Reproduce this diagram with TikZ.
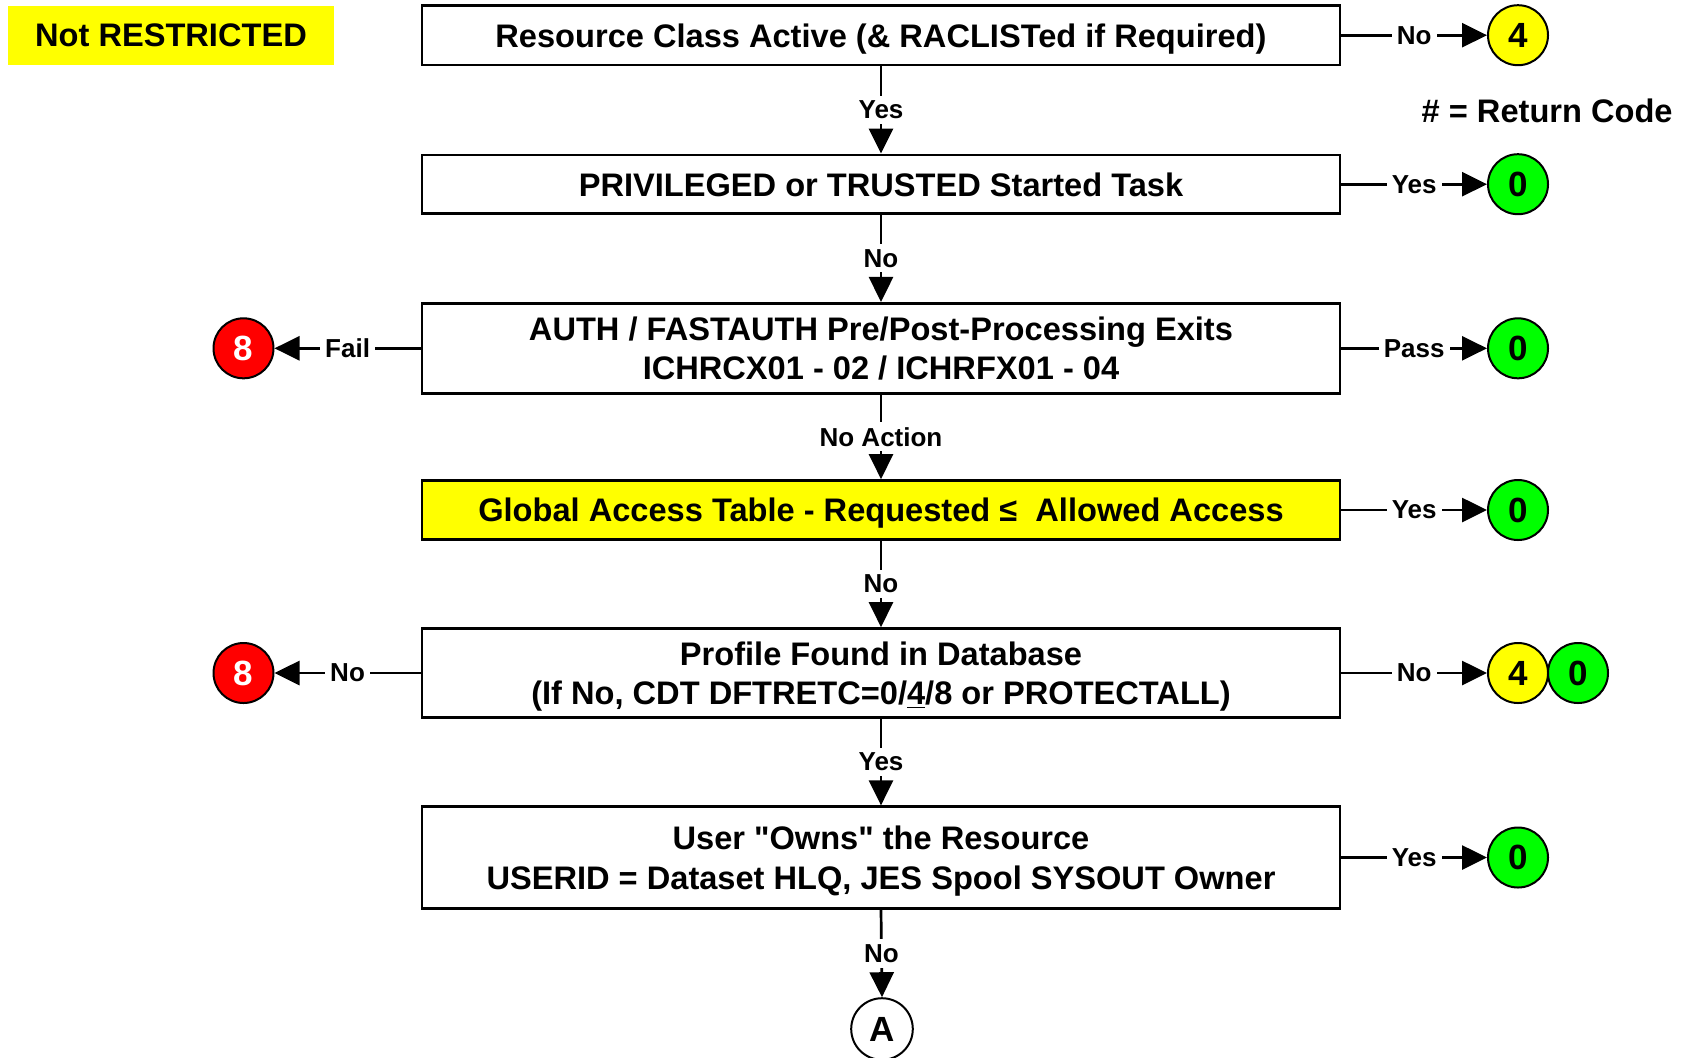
\documentclass[tikz,border=0pt]{standalone}
\usepackage{fontspec}
\setmainfont{Liberation Sans}
\usetikzlibrary{arrows.meta}
\definecolor{hiyellow}{RGB}{255,255,0}
\definecolor{rcgreen}{RGB}{0,255,0}
\definecolor{rcred}{RGB}{255,0,0}
% a line whose descenders do not push the text up in its box
\newcommand{\flatbase}[1]{\raisebox{0pt}[\height][0pt]{#1}}
\begin{document}
\begin{tikzpicture}[x=0.5pt,y=-0.5pt,
  flowbox/.style={draw, line width=1.35pt, minimum width=459pt, inner sep=0pt,
    align=center, font=\bfseries\fontsize{16.3}{19.7}\selectfont},
  rc/.style={circle, draw, line width=1pt, minimum size=30pt, inner sep=0pt,
    font=\bfseries\fontsize{17.5}{17.5}\selectfont},
  conn/.style={line width=1.35pt, -{Triangle[length=12.5pt,width=12pt]}},
  lbl/.style={fill=white, inner sep=2.5pt, font=\bfseries\fontsize{13}{13}\selectfont}
]
\useasboundingbox (0,0) rectangle (1682,1057);

% title tag and legend
\node[fill=hiyellow, minimum width=163pt, minimum height=29.5pt, inner sep=0pt,
  font=\bfseries\fontsize{16.3}{16.3}\selectfont] (tag) at (171,35.5) {Not RESTRICTED};
\node[anchor=east, inner sep=0pt, font=\bfseries\fontsize{16.3}{16.3}\selectfont]
  (legend) at (1673,111) {\# = Return Code};

% decision boxes
\node[flowbox, minimum height=29.8pt] (b1) at (881,35.2)
  {\flatbase{Resource Class Active (\& RACLISTed if Required)}};
\node[flowbox, minimum height=29.3pt] (b2) at (881,184.2)
  {\flatbase{PRIVILEGED or TRUSTED Started Task}};
\node[flowbox, minimum height=45pt] (b3) at (881,348.3)
  {AUTH / FASTAUTH Pre/Post-Processing Exits\\\flatbase{ICHRCX01 - 02 / ICHRFX01 - 04}};
\node[flowbox, fill=hiyellow, minimum height=29.5pt] (b4) at (881,510)
  {\flatbase{Global Access Table - Requested ≤\ \ Allowed Access}};
\node[flowbox, minimum height=44.5pt] (b5) at (881,673)
  {Profile Found in Database\\\flatbase{(If No, CDT DFTRETC=0/\underline{4}/8 or PROTECTALL)}};
\node[flowbox, minimum height=50.8pt] (b6) at (881,857.5)
  {User \textquotedbl Owns\textquotedbl{} the Resource\\\flatbase{USERID = Dataset HLQ, JES Spool SYSOUT Owner}};

% return codes
\node[rc, fill=hiyellow] (r1) at (1518,35.2) {4};
\node[rc, fill=rcgreen] (r2) at (1518,184.2) {0};
\node[rc, fill=rcgreen] (r3) at (1518,348.3) {0};
\node[rc, fill=rcgreen] (r4) at (1518,510) {0};
\node[rc, fill=hiyellow] (r5) at (1518,673) {4};
\node[rc, fill=rcgreen] (r5b) at (1578,673) {0};
\node[rc, fill=rcgreen] (r6) at (1518,857.5) {0};
\node[rc, fill=rcred, text=white] (l3) at (243.5,348.3) {8};
\node[rc, fill=rcred, text=white] (l5) at (243.5,673) {8};

% off-page connector
\node[rc, fill=white, minimum size=30.8pt] (offA) at (882,1029) {A};

% main flow
\draw[conn] (b1.south) -- (b2.north) node[lbl, midway] {Yes};
\draw[conn] (b2.south) -- (b3.north) node[lbl, midway] {No};
\draw[conn] (b3.south) -- (b4.north) node[lbl, midway] {No Action};
\draw[conn] (b4.south) -- (b5.north) node[lbl, midway] {No};
\draw[conn] (b5.south) -- (b6.north) node[lbl, midway] {Yes};
\draw[conn] (b6.south) -- (offA.north) node[lbl, midway] {No};

% exits to the right
\draw[conn] (b1.east) -- (r1.west) node[lbl, midway] {No};
\draw[conn] (b2.east) -- (r2.west) node[lbl, midway] {Yes};
\draw[conn] (b3.east) -- (r3.west) node[lbl, midway] {Pass};
\draw[conn] (b4.east) -- (r4.west) node[lbl, midway] {Yes};
\draw[conn] (b5.east) -- (r5.west) node[lbl, midway] {No};
\draw[conn] (b6.east) -- (r6.west) node[lbl, midway] {Yes};

% exits to the left
\draw[conn] (b3.west) -- (l3.east) node[lbl, midway] {Fail};
\draw[conn] (b5.west) -- (l5.east) node[lbl, midway] {No};
\end{tikzpicture}
\end{document}
